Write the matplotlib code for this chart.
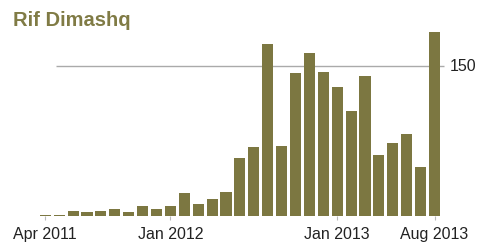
import numpy as np
import matplotlib
matplotlib.use("Agg")
import matplotlib.pyplot as plt

plt.rcParams['font.family'] = ['Liberation Sans', 'DejaVu Sans']

# Monthly values, Apr 2011 - Aug 2013
months = ['Apr 2011', 'May 2011', 'Jun 2011', 'Jul 2011', 'Aug 2011', 'Sep 2011',
          'Oct 2011', 'Nov 2011', 'Dec 2011', 'Jan 2012', 'Feb 2012', 'Mar 2012',
          'Apr 2012', 'May 2012', 'Jun 2012', 'Jul 2012', 'Aug 2012', 'Sep 2012',
          'Oct 2012', 'Nov 2012', 'Dec 2012', 'Jan 2013', 'Feb 2013', 'Mar 2013',
          'Apr 2013', 'May 2013', 'Jun 2013', 'Jul 2013', 'Aug 2013']
values = [1, 1, 5, 4, 5, 7, 4, 10, 7, 10, 23, 12, 17, 24, 58,
          69, 172, 70, 143, 163, 144, 129, 105, 140, 61, 73, 82, 49, 184]
tick_labels = ['Apr 2011', 'Jan 2012', 'Jan 2013', 'Aug 2013']

bar_color = '#7c7741'

fig = plt.figure(figsize=(4.9, 2.43), dpi=100)
ax = fig.add_axes([0, 27 / 243, 1, 196 / 243])

x = np.arange(len(values))
ax.bar(x, values, width=0.8, color=bar_color, zorder=2)

# reference line at 150
ax.hlines(150, 0.77, 28.68, color='#aaaaaa', linewidth=1, zorder=1)
ax.text(29.1, 150, '150', va='center', ha='left', fontsize=11.5, color='#222222')

ax.set_xlim(-45.3 / 13.9, (490 - 45.3) / 13.9)
ax.set_ylim(0, 196)

ax.set_xticks([months.index(t) for t in tick_labels])
ax.set_xticklabels(tick_labels, fontsize=11.5, color='#222222')
ax.tick_params(axis='x', length=3, color='#bbbbbb', pad=5)
ax.set_yticks([])
for s in ax.spines.values():
    s.set_visible(False)

fig.text(13 / 490, 1 - 11 / 243, 'Rif Dimashq', fontsize=14.5, fontweight='bold',
         color='#807b45', ha='left', va='top')

fig.savefig('out.png', dpi=100)
